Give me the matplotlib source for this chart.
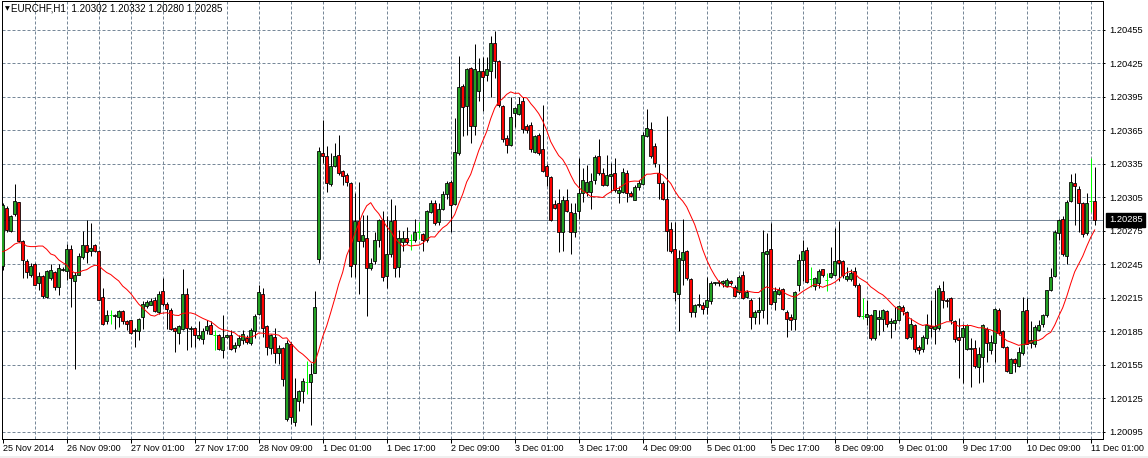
import numpy as np
import pandas as pd
import matplotlib
matplotlib.use("Agg")
import matplotlib.pyplot as plt
from matplotlib.patches import Rectangle

# EURCHF H1, prices in points above 1.20000 (1 point = 0.00001)
open_pts = [
    244, 296, 275, 290, 301, 266, 248, 236, 245, 228,
    235, 216, 233, 238, 225, 240, 239, 259, 230, 236,
    252, 262, 257, 262, 257, 216, 194, 200, 199, 198,
    203, 194, 195, 185, 185, 198, 208, 209, 213, 202,
    221, 210, 204, 188, 184, 187, 219, 187, 188, 179,
    178, 186, 191, 182, 182, 168, 180, 182, 170, 173,
    177, 179, 175, 185, 201, 219, 190, 170, 180, 166,
    170, 107, 174, 104, 123, 132, 140, 140, 148, 250,
    345, 342, 317, 333, 343, 329, 325, 318, 245, 284,
    266, 269, 242, 248, 267, 285, 235, 254, 285, 243,
    265, 269, 267, 267, 274, 272, 267, 292, 300, 283,
    295, 308, 319, 299, 345, 405, 387, 421, 369, 400,
    418, 415, 418, 443, 427, 387, 358, 352, 381, 380,
    391, 369, 370, 346, 361, 348, 333, 323, 299, 300,
    274, 303, 292, 274, 293, 309, 310, 310, 321, 342,
    327, 316, 324, 327, 309, 310, 327, 309, 303, 314,
    317, 360, 366, 351, 327, 318, 304, 277, 259, 219,
    249, 257, 232, 202, 209, 209, 207, 212, 228, 228,
    228, 226, 230, 225, 220, 236, 216, 213, 198, 202,
    204, 254, 259, 211, 219, 223, 202, 198, 196, 227,
    249, 258, 232, 226, 228, 241, 231, 234, 236, 249,
    248, 232, 232, 239, 227, 199, 198, 200, 179, 196,
    196, 203, 193, 193, 195, 207, 202, 180, 191, 171,
    169, 179, 190, 187, 188, 221, 213, 215, 194, 180,
    180, 169, 169, 170, 153, 162, 187, 168, 175, 204,
    185, 171, 148, 160, 154, 166, 204, 175, 174, 186,
    192, 200, 222, 235, 273, 286, 253, 302, 318, 313,
    300, 273, 302, 302,
]
high_pts = [
    300, 297, 289, 317, 301, 267, 250, 246, 246, 238,
    236, 240, 245, 239, 245, 243, 263, 262, 238, 255,
    275, 285, 282, 263, 258, 224, 204, 204, 201, 204,
    204, 195, 195, 188, 197, 212, 213, 215, 216, 221,
    233, 211, 206, 189, 191, 241, 224, 190, 189, 194,
    188, 195, 194, 186, 183, 200, 183, 186, 176, 182,
    186, 182, 188, 201, 227, 224, 191, 183, 188, 173,
    171, 177, 176, 143, 133, 143, 159, 157, 221, 350,
    374, 351, 345, 354, 361, 330, 327, 319, 309, 319,
    289, 289, 251, 274, 286, 293, 288, 304, 298, 276,
    275, 279, 272, 286, 283, 273, 294, 303, 303, 300,
    311, 320, 321, 376, 432, 407, 421, 422, 442, 430,
    431, 431, 450, 454, 428, 388, 361, 395, 386, 395,
    395, 371, 373, 361, 363, 388, 335, 324, 303, 313,
    306, 313, 300, 300, 340, 331, 334, 327, 343, 357,
    331, 343, 336, 340, 315, 331, 330, 311, 316, 321,
    364, 384, 373, 354, 335, 320, 378, 283, 283, 258,
    286, 258, 233, 210, 219, 211, 234, 230, 229, 231,
    231, 233, 231, 227, 236, 239, 222, 215, 204, 216,
    276, 273, 282, 225, 225, 224, 204, 201, 221, 254,
    267, 261, 243, 234, 241, 241, 237, 261, 278, 284,
    249, 243, 241, 243, 228, 215, 213, 201, 204, 204,
    205, 204, 197, 207, 209, 209, 203, 197, 192, 173,
    182, 201, 213, 222, 227, 230, 215, 216, 195, 197,
    192, 192, 179, 177, 171, 192, 189, 182, 206, 206,
    186, 172, 161, 161, 171, 216, 215, 194, 191, 195,
    201, 222, 242, 276, 286, 288, 303, 326, 327, 315,
    301, 309, 340, 332,
]
low_pts = [
    240, 274, 274, 288, 265, 233, 233, 234, 227, 222,
    215, 215, 231, 222, 218, 239, 231, 207, 151, 236,
    250, 246, 253, 256, 213, 191, 192, 192, 187, 189,
    192, 186, 183, 171, 177, 187, 206, 209, 202, 201,
    208, 187, 186, 167, 174, 186, 168, 171, 171, 177,
    174, 183, 183, 168, 168, 161, 179, 168, 167, 171,
    174, 174, 173, 179, 200, 180, 164, 165, 157, 156,
    136, 105, 102, 100, 114, 121, 129, 101, 148, 246,
    336, 310, 315, 332, 325, 316, 315, 234, 234, 219,
    261, 199, 240, 245, 261, 230, 224, 252, 234, 234,
    257, 263, 258, 265, 268, 257, 265, 291, 280, 280,
    294, 304, 274, 298, 343, 360, 361, 354, 361, 391,
    382, 409, 395, 412, 386, 355, 345, 351, 368, 379,
    363, 363, 346, 345, 343, 328, 315, 284, 295, 256,
    257, 292, 254, 270, 286, 301, 306, 295, 317, 325,
    315, 315, 310, 310, 300, 309, 301, 305, 303, 312,
    316, 359, 340, 332, 304, 303, 257, 255, 212, 185,
    227, 231, 198, 198, 207, 201, 201, 210, 227, 226,
    225, 225, 227, 216, 219, 214, 215, 187, 192, 192,
    197, 192, 209, 204, 218, 204, 180, 186, 186, 221,
    230, 228, 225, 222, 224, 234, 221, 233, 235, 230,
    233, 230, 230, 225, 198, 196, 191, 177, 177, 182,
    185, 189, 179, 186, 194, 200, 178, 178, 167, 165,
    167, 174, 180, 174, 186, 206, 207, 192, 176, 143,
    139, 168, 135, 152, 139, 140, 158, 165, 158, 182,
    170, 149, 148, 149, 153, 164, 174, 170, 171, 185,
    189, 198, 221, 234, 267, 253, 245, 301, 280, 274,
    270, 271, 292, 280,
]
close_pts = [
    298, 276, 288, 302, 266, 249, 238, 244, 227, 235,
    217, 239, 240, 225, 242, 241, 259, 233, 236, 253,
    262, 256, 260, 257, 213, 192, 200, 200, 200, 203,
    194, 192, 184, 186, 196, 210, 211, 212, 203, 219,
    210, 205, 187, 185, 190, 219, 188, 188, 182, 182,
    185, 190, 183, 182, 169, 180, 182, 169, 173, 179,
    183, 176, 186, 199, 220, 188, 171, 182, 166, 170,
    142, 175, 108, 125, 132, 141, 140, 147, 207, 347,
    342, 318, 333, 342, 327, 324, 319, 244, 284, 266,
    271, 242, 246, 267, 285, 234, 254, 284, 242, 269,
    269, 265, 267, 274, 274, 267, 293, 300, 282, 295,
    308, 318, 298, 346, 404, 386, 420, 369, 420, 418,
    413, 420, 443, 427, 388, 357, 352, 377, 385, 389,
    366, 365, 348, 360, 345, 329, 324, 285, 296, 274,
    303, 293, 274, 291, 309, 321, 319, 320, 341, 327,
    316, 325, 326, 312, 312, 328, 309, 306, 314, 318,
    361, 367, 342, 336, 318, 304, 275, 257, 220, 251,
    256, 233, 202, 209, 210, 205, 213, 228, 229, 229,
    230, 231, 228, 217, 234, 215, 220, 198, 202, 204,
    256, 257, 210, 221, 222, 205, 196, 195, 220, 249,
    257, 229, 232, 233, 239, 236, 231, 237, 248, 246,
    236, 235, 237, 227, 199, 199, 201, 179, 204, 198,
    204, 192, 194, 195, 208, 203, 179, 192, 169, 168,
    180, 191, 188, 190, 224, 213, 212, 195, 178, 177,
    188, 191, 170, 154, 165, 191, 175, 176, 205, 184,
    171, 150, 160, 157, 167, 203, 174, 177, 189, 191,
    200, 222, 234, 274, 285, 254, 301, 319, 315, 300,
    272, 300, 302, 285,
]
# moving average before 14 bars are available
ma_head_pts = [256.5, 258, 260.3, 263.3, 264.5, 264, 261.5, 261, 261, 261.5,
               261.5, 258.6, 254.4]
ma_period = 14

time_labels = ["25 Nov 2014", "26 Nov 09:00", "27 Nov 01:00", "27 Nov 17:00",
               "28 Nov 09:00", "1 Dec 01:00", "1 Dec 17:00", "2 Dec 09:00",
               "3 Dec 01:00", "3 Dec 17:00", "4 Dec 09:00", "5 Dec 01:00",
               "5 Dec 17:00", "8 Dec 09:00", "9 Dec 01:00", "9 Dec 17:00",
               "10 Dec 09:00", "11 Dec 01:00"]
label_step = 16
grid_step = 8
price_ticks_pts = [95, 125, 155, 185, 215, 245, 275, 305, 335, 365, 395, 425, 455]
last_price_pts = 285
header = "EURCHF,H1  1.20302 1.20332 1.20280 1.20285"

base = 1.2
o = base + np.array(open_pts) / 1e5
h = base + np.array(high_pts) / 1e5
l = base + np.array(low_pts) / 1e5
c = base + np.array(close_pts) / 1e5
assert len(o) == len(h) == len(l) == len(c)
h = np.maximum(h, np.maximum(o, c))
l = np.minimum(l, np.minimum(o, c))
n = len(o)
x = np.arange(n)

ma = pd.Series(c).rolling(ma_period).mean().to_numpy()
ma[:len(ma_head_pts)] = base + np.array(ma_head_pts) / 1e5

plt.rcParams['font.family'] = ['Liberation Sans', 'DejaVu Sans']
W, H = 1148, 458
PX = 0.72  # one pixel in points
fig = plt.figure(figsize=(W / 100, H / 100), dpi=100)
fig.patches.append(Rectangle((0, 0), 1, 2.5 / H, transform=fig.transFigure,
                             fc='#f0f0f0', ec='none'))
ax = fig.add_axes([2 / W, 19 / H, 1101 / W, 438.5 / H])

grid_col = '#778899'
for k in range(1, n // grid_step + 1):
    ax.axvline(k * grid_step, color=grid_col, lw=PX, ls=(0, (3, 2)), zorder=1)
for p in price_ticks_pts:
    ax.axhline(base + p / 1e5, color=grid_col, lw=PX, ls=(0, (3, 2)), zorder=1)
ax.axhline(base + last_price_pts / 1e5, color=grid_col, lw=PX, zorder=2)

doji = c == o
up = c > o
down = c < o
body_w = 0.72
ax.vlines(x[~doji], l[~doji], h[~doji], color='black', lw=PX, zorder=3)
ax.bar(x[up], (c - o)[up], bottom=o[up], width=body_w, color='#22a022',
       edgecolor='black', lw=0.8 * PX, zorder=4)
ax.bar(x[down], (o - c)[down], bottom=c[down], width=body_w, color='#ff0000',
       edgecolor='black', lw=0.8 * PX, zorder=4)
ax.vlines(x[doji], l[doji], h[doji], color='#00ff00', lw=PX, zorder=4)
ax.hlines(o[doji], x[doji] - 0.4, x[doji] + 0.4, color='#00ff00', lw=PX, zorder=4)

ax.plot(x, ma, color='red', lw=PX, zorder=5)

ax.set_xlim(-0.175, 275.075)
ax.set_ylim(base + 88.7 / 1e5, base + 481.4 / 1e5)

ax.yaxis.tick_right()
ax.set_yticks([base + p / 1e5 for p in price_ticks_pts])
ax.set_yticklabels([f"{base + p / 1e5:.5f}" for p in price_ticks_pts])
ax.tick_params(axis='y', length=2 * PX, width=PX, pad=4 * PX, labelsize=6.7,
               direction='out', colors='black')
ax.set_xticks(np.arange(len(time_labels)) * label_step)
ax.set_xticklabels(time_labels)
ax.tick_params(axis='x', length=4 * PX, width=PX, pad=1, labelsize=6.5,
               direction='out')
for t in ax.get_xticklabels():
    t.set_ha('left')
for s in ax.spines.values():
    s.set_linewidth(PX)
    s.set_color('black')

ax.text((1109 - 2) / 1101, base + last_price_pts / 1e5,
        f"{base + last_price_pts / 1e5:.5f}", transform=ax.get_yaxis_transform(),
        color='white', fontsize=6.7, va='center', ha='left', zorder=10,
        bbox=dict(boxstyle='square,pad=0.3', fc='black', ec='black'), clip_on=False)

fig.text(4.5 / W, 1 - 9 / H, "\u25bc", fontsize=4.5, va='center', ha='left',
         family=['DejaVu Sans'])
fig.text(11 / W, 1 - 8.5 / H, header, fontsize=7.1, va='center', ha='left')

fig.savefig("out.png", dpi=100, facecolor='white')
